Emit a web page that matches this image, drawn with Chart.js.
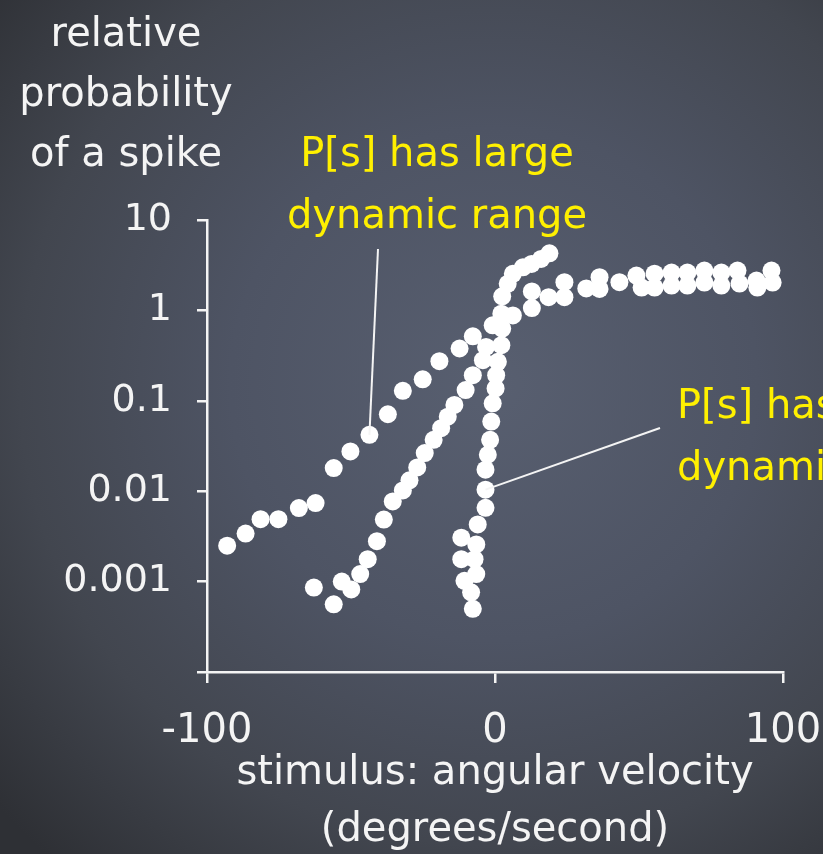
<!DOCTYPE html>
<html>
<head>
<meta charset="utf-8">
<script src="https://cdn.jsdelivr.net/npm/chart.js@4.4.1/dist/chart.umd.min.js"></script>
<style>
  html, body {
    margin: 0;
    padding: 0;
    width: 823px;
    height: 854px;
    overflow: hidden;
    background: radial-gradient(ellipse 80% 75% at 60% 45%, #585f70 0%, #4e5464 40%, #42464f 72%, #2e3035 100%);
  }
  canvas { display: block; }
</style>
</head>
<body>
<canvas id="spike-canvas" width="823" height="854"></canvas>
<script>
// angular velocity (deg/s) and relative spike probability, three stimulus conditions
var wideX = [-93, -86.6, -81.4, -75.2, -68.1, -62.3, -56, -50.2, -43.6, -37.2, -32, -25.1, -19.3, -12.3, -7.7,
    6.2, 12.8, 18.6, 24.1, 31.7, 36.3, 50.9, 55.4, 61.3, 66.8, 72.7, 78.6, 84.9, 91.1, 96.4];
var wideY = [0.0025, 0.0034, 0.0049, 0.0049, 0.0065, 0.0074, 0.018, 0.0275, 0.042, 0.071, 0.129, 0.173, 0.274, 0.379, 0.517,
    0.88, 1.06, 1.4, 1.4, 1.75, 1.73, 1.79, 1.79, 1.88, 1.88, 2.03, 1.88, 1.98, 1.79, 2.03];

var midX = [-62.9, -56, -53.2, -49.9, -46.8, -44.2, -41, -38.6, -35.5, -32, -29.7, -27, -24.4, -21.3, -18.7,
    -16.4, -14.1, -10.2, -7.7, -4.2, -3.1, -0.8, 2.5, 4.4, 6.2, 9.7, 12.7, 16, 18.9];
var midY = [0.00086, 0.00056, 0.001, 0.00082, 0.00121, 0.00177, 0.0028, 0.00486, 0.0077, 0.0102, 0.0132, 0.0183, 0.0264, 0.037, 0.0498,
    0.0668, 0.09, 0.1315, 0.192, 0.281, 0.394, 0.684, 1.43, 1.97, 2.54, 3.0, 3.27, 3.71, 4.28];

var steepX = [-7.7, -8.3, -10.6, -6.5, -11.7, -7.1, -11.7, -6.5, -6.0, -3.3, -3.3, -3.3, -2.5, -1.7, -1.3,
    -0.8, 0.2, 0.4, 1.0, 2.2, 2.5, 2.2, 12.8, 24.1, 36.3, 43.2, 49.1, 55.4, 61.3, 66.8, 72.7, 78.6, 84.2, 90.8, 96.0];
var steepY = [0.0005, 0.00076, 0.00102, 0.00121, 0.00177, 0.00177, 0.00306, 0.00258, 0.00429, 0.00655, 0.0104, 0.0173, 0.0253, 0.037, 0.0589,
    0.0938, 0.137, 0.192, 0.27, 0.412, 0.629, 0.92, 1.62, 2.05, 2.33, 2.05, 2.43, 2.55, 2.62, 2.62, 2.76, 2.62, 2.76, 2.14, 2.76];

var xTicks = [-100, 0, 100];
var yTicks = [0.0001, 0.001, 0.01, 0.1, 1, 10];
var yTickLabels = ['', '0.001', '0.01', '0.1', '1', '10'];

var yTitle = ['relative', 'probability', 'of a spike'];
var xTitle = ['stimulus: angular velocity', '(degrees/second)'];

var chalk = '#f4f4f4';
var yellow = '#fff000';
var font = '"DejaVu Sans", sans-serif';

function toPoints(xs, ys) {
    return xs.map(function (x, i) { return { x: x, y: ys[i] }; });
}

// callouts: text block, where the leader starts, which dot it points at
var notes = [
    { lines: ['P[s] has large', 'dynamic range'], x: 437, y: 166, align: 'center', from: [378, 249], set: 0, index: 8 },
    { lines: ['P[s] has small', 'dynamic range'], x: 677, y: 418, align: 'left', from: [660, 428], set: 2, index: 10 }
];

var chalkText = {
    id: 'chalkText',
    afterDatasetsDraw: function (chart) {
        var ctx = chart.ctx;
        ctx.save();
        ctx.font = '40px ' + font;
        ctx.textBaseline = 'alphabetic';

        ctx.fillStyle = chalk;
        ctx.textAlign = 'center';
        yTitle.forEach(function (line, i) {
            ctx.fillText(line, 126, 46 + i * 60);
        });

        notes.forEach(function (n) {
            var el = chart.getDatasetMeta(n.set).data[n.index];
            ctx.strokeStyle = chalk;
            ctx.lineWidth = 2;
            ctx.beginPath();
            ctx.moveTo(n.from[0], n.from[1]);
            ctx.lineTo(el.x, el.y);
            ctx.stroke();

            ctx.fillStyle = yellow;
            ctx.textAlign = n.align;
            n.lines.forEach(function (line, i) {
                ctx.fillText(line, n.x, n.y + i * 62);
            });
        });
        ctx.restore();
    }
};

var dot = { pointRadius: 9, pointHoverRadius: 9, backgroundColor: '#ffffff', borderWidth: 0, showLine: false };

var ctx = document.getElementById('spike-canvas').getContext('2d');
window.spikeChart = new Chart(ctx, {
    type: 'scatter',
    data: {
        datasets: [
            Object.assign({ label: 'wide', data: toPoints(wideX, wideY) }, dot),
            Object.assign({ label: 'mid', data: toPoints(midX, midY) }, dot),
            Object.assign({ label: 'steep', data: toPoints(steepX, steepY) }, dot)
        ]
    },
    options: {
        responsive: false,
        animation: false,
        devicePixelRatio: 1,
        layout: { padding: { top: 220, right: 40, left: 0, bottom: 0 } },
        plugins: {
            legend: { display: false },
            tooltip: { enabled: false }
        },
        scales: {
            x: {
                type: 'linear',
                min: -100,
                max: 100,
                afterFit: function (s) {
                    s.height = 182;
                    s.paddingLeft = 0;
                    s.paddingRight = 0;
                },
                afterBuildTicks: function (s) { s.ticks = xTicks.map(function (v) { return { value: v }; }); },
                ticks: { color: chalk, padding: 25, font: { family: font, size: 40 }, maxRotation: 0 },
                grid: { drawOnChartArea: false, drawTicks: true, tickLength: 11, color: chalk, lineWidth: 2.5 },
                border: { display: true, color: chalk, width: 2.5 },
                title: { display: true, text: xTitle, color: chalk, font: { family: font, size: 40, lineHeight: 1.42 }, padding: { top: 0, bottom: -5 } }
            },
            y: {
                type: 'logarithmic',
                min: 0.0001,
                max: 10,
                afterFit: function (s) {
                    s.width = 207;
                    s.paddingTop = 0;
                    s.paddingBottom = 0;
                },
                afterBuildTicks: function (s) { s.ticks = yTicks.map(function (v) { return { value: v }; }); },
                ticks: {
                    color: chalk,
                    padding: 25,
                    font: { family: font, size: 38 },
                    callback: function (v) { return yTickLabels[yTicks.indexOf(v)]; }
                },
                grid: { drawOnChartArea: false, drawTicks: true, tickLength: 10, color: chalk, lineWidth: 2.5 },
                border: { display: true, color: chalk, width: 2.5 }
            }
        }
    },
    plugins: [chalkText]
});
</script>
</body>
</html>
